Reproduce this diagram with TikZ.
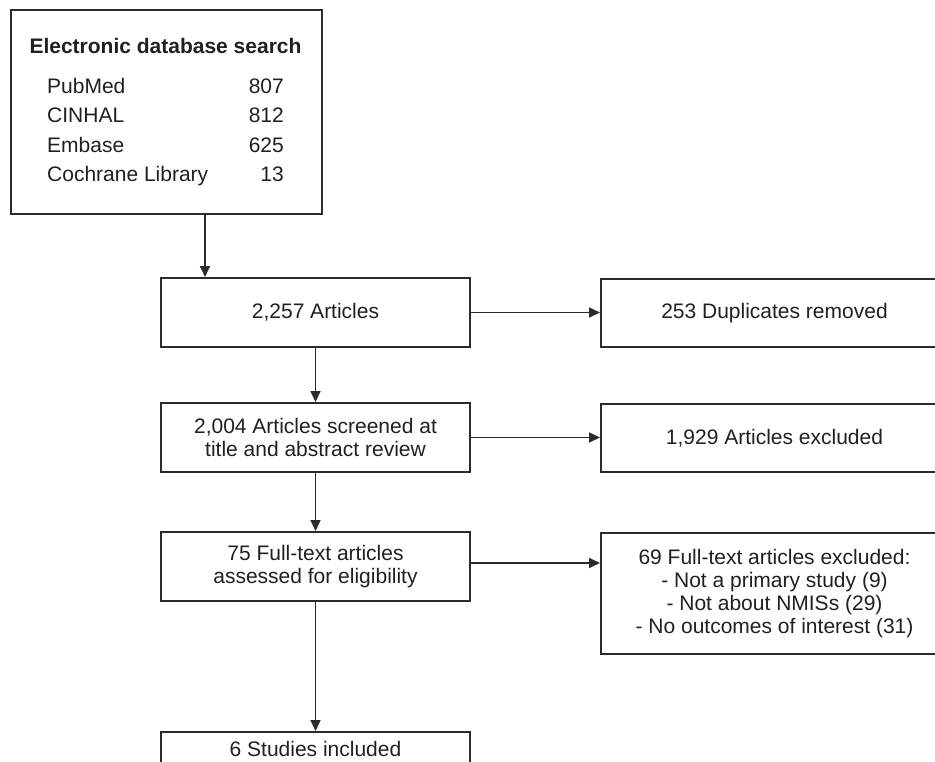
\documentclass[tikz,border=0pt]{standalone}
\usepackage{fontspec}
\setmainfont{Liberation Sans}
\usetikzlibrary{arrows.meta}
\definecolor{lc}{HTML}{2B2B2B}
\definecolor{tc}{HTML}{231F20}
\begin{document}
\begin{tikzpicture}[x=1pt,y=-1pt,
  box/.style={draw=lc, line width=2pt, align=center, inner sep=0pt, text=tc,
    font=\fontsize{21}{23}\selectfont},
  txt/.style={inner sep=0pt, text=tc, font=\fontsize{21}{23}\selectfont},
  arr/.style={draw=lc, line width=1.7pt, -{Triangle[length=11pt,width=10pt]}}]
\useasboundingbox (0,0) rectangle (935,761);
\clip (0,0) rectangle (935,761);
\fill[white] (0,0) rectangle (935,761);

% database box
\node[box, minimum width=311, minimum height=204, anchor=north west] (db) at (10,9) {};
\node[txt, font=\fontsize{21}{23}\selectfont\bfseries, anchor=base] (title) at (165.5,53) {Electronic database search};
\node[txt, anchor=base west] (pm) at (47,93) {PubMed};
\node[txt, anchor=base east] (pmn) at (284,93) {807};
\node[txt, anchor=base west] (ci) at (47,122.5) {CINHAL};
\node[txt, anchor=base east] (cin) at (284,122.5) {812};
\node[txt, anchor=base west] (em) at (47,152) {Embase};
\node[txt, anchor=base east] (emn) at (284,152) {625};
\node[txt, anchor=base west] (co) at (47,181) {Cochrane Library};
\node[txt, anchor=base east] (con) at (284,181) {13};

% centre column
\node[box, minimum width=309, minimum height=69] (n1) at (315.5,312.5) {2,257 Articles};
\node[box, minimum width=309, minimum height=69] (n2) at (315.5,437.5) {2,004 Articles screened at\\title and abstract review};
\node[box, minimum width=309, minimum height=69] (n3) at (315.5,566.5) {75 Full-text articles\\assessed for eligibility};
\node[box, minimum width=309, anchor=north, inner ysep=9pt, text height=15pt, text depth=60pt] (n4) at (315.5,731) {6 Studies included};

% right column
\node[box, minimum width=347, minimum height=68] (r1) at (774.5,313) {253 Duplicates removed};
\node[box, minimum width=347, minimum height=68] (r2) at (774.5,438) {1,929 Articles excluded};
\node[box, minimum width=347, minimum height=121] (r3) at (774.5,593.5) {69 Full-text articles excluded:\\- Not a primary study (9)\\- Not about NMISs (29)\\- No outcomes of interest (31)};

% connectors
\coordinate (ax) at (205,0);
\draw[arr] (db.south -| ax) -- (n1.north -| ax);
\draw[arr] (n1) -- (n2);
\draw[arr] (n2) -- (n3);
\draw[arr] (n3) -- (n4);
\draw[arr] (n1.east) -- (n1.east -| r1.west);
\draw[arr] (n2.east) -- (n2.east -| r2.west);
\draw[arr] ([yshift=3.5pt]n3.east) -- ([yshift=3.5pt]n3.east -| r3.west);
\end{tikzpicture}
\end{document}
